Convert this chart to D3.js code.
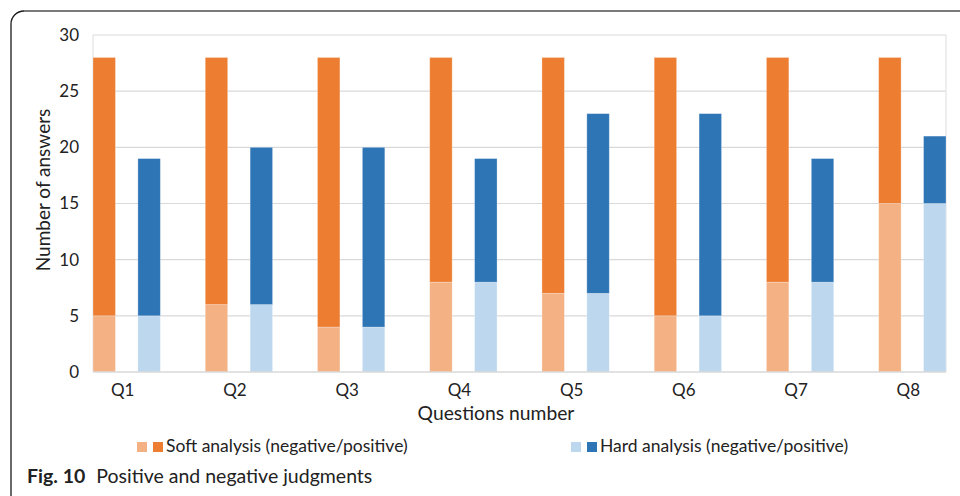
<!DOCTYPE html>
<html>
<head>
<meta charset="utf-8">
<script src="https://cdn.jsdelivr.net/npm/d3@7"></script>
<style>
  html, body { margin: 0; padding: 0; background: #fff; }
  svg { display: block; }
  text { font-family: Lato, "Open Sans", sans-serif; fill: #222; }
</style>
</head>
<body>
<svg id="chart" width="960" height="496"></svg>
<script>
// Answer counts per question
const questions = ["Q1", "Q2", "Q3", "Q4", "Q5", "Q6", "Q7", "Q8"];
const softNegative = [5, 6, 4, 8, 7, 5, 8, 15];
const softPositive = [23, 22, 24, 20, 21, 23, 20, 13];
const hardNegative = [5, 6, 4, 8, 7, 5, 8, 15];
const hardPositive = [14, 14, 16, 11, 16, 18, 11, 6];
const groups = ["soft", "hard"];
const legendLabels = ["Soft analysis (negative/positive)", "Hard analysis (negative/positive)"];
const yTicks = [0, 5, 10, 15, 20, 25, 30];

const colors = {
  soft: ["#F4B183", "#ED7D31"],
  hard: ["#BDD7EE", "#2E75B6"]
};

const svg = d3.select("#chart");
const plot = { left: 93, right: 946, top: 35, bottom: 372 };

// Rounded figure frame
svg.append("path")
  .attr("d", "M11,496 L11,24 A13,13 0 0 1 24,11")
  .attr("fill", "none").attr("stroke", "#1a1a1a").attr("stroke-width", 1.3);
svg.append("path")
  .attr("d", "M24,11 L960,11")
  .attr("fill", "none").attr("stroke", "#7a7a7a").attr("stroke-width", 2);

const x = d3.scaleBand().domain(questions)
  .range([plot.left, plot.right]).paddingInner(0.4).paddingOuter(0);
const xInner = d3.scaleBand().domain(groups)
  .range([0, x.bandwidth()]).paddingInner(0.5).paddingOuter(0);
const y = d3.scaleLinear().domain([0, 30]).range([plot.bottom, plot.top]);

// Gridlines
svg.append("g")
  .selectAll("line").data(yTicks.filter(d => d > 0)).join("line")
  .attr("x1", plot.left).attr("x2", plot.right)
  .attr("y1", d => y(d)).attr("y2", d => y(d))
  .attr("stroke", "#d9d9d9").attr("stroke-width", 1.2);
// Plot area sides
svg.append("g").selectAll("line").data([plot.left, plot.right]).join("line")
  .attr("x1", d => d).attr("x2", d => d)
  .attr("y1", plot.top).attr("y2", plot.bottom)
  .attr("stroke", "#e3e3e3").attr("stroke-width", 1.2);

// Stacked bars
const rows = questions.map((q, i) => ({
  q,
  soft: [softNegative[i], softPositive[i]],
  hard: [hardNegative[i], hardPositive[i]]
}));

groups.forEach(g => {
  const stack = d3.stack().keys([0, 1]).value((d, k) => d[g][k]);
  const layers = stack(rows);
  svg.append("g").selectAll("g").data(layers).join("g")
    .attr("fill", (d, k) => colors[g][k])
    .selectAll("rect").data(d => d).join("rect")
    .attr("x", d => x(d.data.q) + xInner(g))
    .attr("width", xInner.bandwidth())
    .attr("y", d => y(d[1]))
    .attr("height", d => y(d[0]) - y(d[1]))
    .attr("stroke", "#fff").attr("stroke-opacity", 0.35).attr("stroke-width", 0.8);
});

// Category axis line
svg.append("line")
  .attr("x1", plot.left).attr("x2", plot.right)
  .attr("y1", plot.bottom).attr("y2", plot.bottom)
  .attr("stroke", "#d9d9d9").attr("stroke-width", 1.5);

// Y axis labels
const yAxis = d3.axisLeft(y).tickValues(yTicks).tickSize(0).tickPadding(0);
const yg = svg.append("g").attr("transform", `translate(79,0)`).call(yAxis);
yg.select(".domain").remove();
yg.selectAll("text").style("font-size", "17px").attr("fill", "#222")
  .style("font-family", "Lato, sans-serif");

// X axis labels
const xAxis = d3.axisBottom(x).tickSize(0).tickPadding(0);
const xg = svg.append("g").attr("transform", `translate(-4,${plot.bottom + 12})`).call(xAxis);
xg.select(".domain").remove();
xg.selectAll("text").style("font-size", "17px").attr("fill", "#222")
  .style("font-family", "Lato, sans-serif");

// Axis titles
svg.append("text")
  .attr("x", 496).attr("y", 420)
  .attr("text-anchor", "middle")
  .style("font-size", "19.3px")
  .text("Questions number");
svg.append("text")
  .attr("transform", "translate(50,190) rotate(-90)")
  .attr("text-anchor", "middle")
  .style("font-size", "19px")
  .text("Number of answers");

// Legend
const legendPos = [137, 571];
groups.forEach((g, i) => {
  const lg = svg.append("g").attr("transform", `translate(${legendPos[i]},442)`);
  lg.selectAll("rect").data(colors[g]).join("rect")
    .attr("x", (d, k) => k * 16).attr("y", 0)
    .attr("width", 10).attr("height", 10)
    .attr("fill", d => d);
  lg.append("text")
    .attr("x", 29).attr("y", 10)
    .style("font-size", "17.5px")
    .text(legendLabels[i]);
});

// Caption
const cap = svg.append("text").attr("x", 27).attr("y", 483)
  .style("font-size", "19.5px").attr("fill", "#231f20");
cap.append("tspan").style("font-weight", "bold").text("Fig. 10");
cap.append("tspan").attr("dx", 11).text("Positive and negative judgments");
</script>
</body>
</html>
